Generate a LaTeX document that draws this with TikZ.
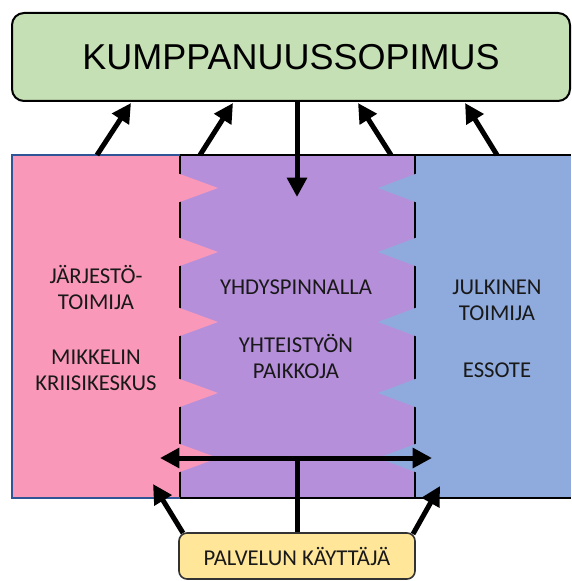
\documentclass[tikz,border=0pt]{standalone}
\usepackage{fontspec}
\setmainfont{Carlito}
\newfontfamily\titlefont{Liberation Sans}
\usepackage{tikz}
\usetikzlibrary{arrows.meta, positioning}
\definecolor{sopgreen}{RGB}{197,224,180}
\definecolor{orgpink}{RGB}{250,152,186}
\definecolor{midpurple}{RGB}{182,143,219}
\definecolor{pubblue}{RGB}{143,170,220}
\definecolor{edgeblue}{RGB}{47,85,151}
\definecolor{useryellow}{RGB}{255,230,153}
\tikzset{
    x=0.75pt, y=-0.75pt, % one unit is one pixel, y runs downwards
    >={Triangle[length=14.5pt,width=14.5pt]}, % big solid heads
    flow/.style={line width=3.75pt}, % the thick black arrows
    topbox/.style={draw, line width=1.5pt, rounded corners=9pt, fill=sopgreen,
        minimum width=418.5pt, minimum height=66pt, inner sep=0pt,
        font=\titlefont\fontsize{27}{30}\selectfont},
    userbox/.style={draw=black!80, line width=1.2pt, rounded corners=6pt, fill=useryellow,
        minimum width=177pt, minimum height=34.5pt, inner sep=0pt,
        font=\fontsize{17}{19.5}\selectfont, text=black!90},
    bodytext/.style={align=center, inner sep=0pt, font=\fontsize{17}{19.5}\selectfont, text=black!90},
    }
\begin{document}
\begin{tikzpicture}
    \useasboundingbox (0,0) rectangle (571,581);
    % the three areas
    \fill[orgpink] (12,155) rectangle (180,498);
    \fill[midpurple] (180,155) rectangle (415,498);
    \fill[pubblue] (415,155) rectangle (571,498);
    \draw[line width=1.5pt] (180,155) -- (180,498);
    \draw[line width=1.5pt] (415,155) -- (415,498);
    \foreach \c in {188,252,322,393,458}{
        \fill[orgpink] (177,\c-15) -- (218,\c) -- (177,\c+15) -- cycle;
        \fill[pubblue] (418,\c-15) -- (378,\c) -- (418,\c+15) -- cycle;
    }
    \draw[line width=1.5pt] (180,155) -- (571,155);
    \draw[line width=1.5pt] (180,498) -- (571,498);
    \draw[edgeblue, line width=1.6pt] (180,155) -- (12,155) -- (12,498) -- (180,498);

    \node[topbox] (sopimus) at (291,57) {KUMPPANUUSSOPIMUS};
    \node[userbox] (kayttaja) at (297,556) {PALVELUN KÄYTTÄJÄ};

    \node[bodytext] (jarjesto) at (96,287) {JÄRJESTÖ-\\TOIMIJA};
    \node[bodytext] (kriisi) at (96,370) {MIKKELIN\\KRIISIKESKUS};
    \node[bodytext] (yhdys) at (296,287) {YHDYSPINNALLA};
    \node[bodytext] (paikat) at (296,356) {YHTEISTYÖN\\PAIKKOJA};
    \node[bodytext] (julkinen) at (497,300) {JULKINEN\\TOIMIJA};
    \node[bodytext] (essote) at (497,370) {ESSOTE};

    % arrow ends
    \coordinate (p1) at (97,155);  \coordinate (q1) at (131,103);
    \coordinate (p2) at (200,155); \coordinate (q2) at (233,103);
    \coordinate (p3) at (391,155); \coordinate (q3) at (358,103);
    \coordinate (p4) at (497,155); \coordinate (q4) at (465,103);
    \coordinate (d0) at (297,101); \coordinate (d1) at (297,197);
    \coordinate (lt) at (160,458); \coordinate (rt) at (432,458);
    \coordinate (mid) at (297,458);
    \coordinate (u1) at (183,533); \coordinate (v1) at (153,484);
    \coordinate (u2) at (413,534); \coordinate (v2) at (440,486);

    \draw[flow, ->] (p1) -- (q1);
    \draw[flow, ->] (p2) -- (q2);
    \draw[flow, ->] (p3) -- (q3);
    \draw[flow, ->] (p4) -- (q4);
    \draw[flow, ->] (d0) -- (d1);
    \draw[flow, <->] (lt) -- (rt);
    \draw[flow] (kayttaja.north) -- (mid);
    \draw[flow, ->] (u1) -- (v1);
    \draw[flow, ->] (u2) -- (v2);
\end{tikzpicture}
\end{document}
